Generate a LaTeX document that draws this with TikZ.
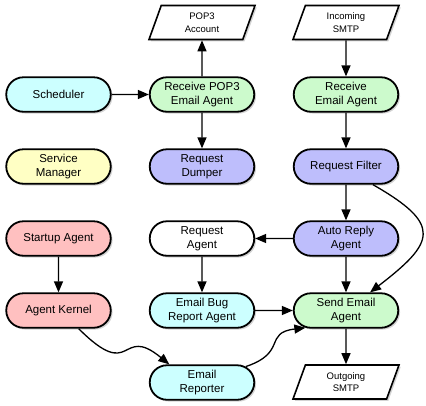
\documentclass[tikz,border=0pt]{standalone}
\usepackage{fontspec}
\setmainfont{Liberation Sans}
\usetikzlibrary{arrows.meta}
\usetikzlibrary{shapes.misc,shapes.geometric,shadows}
\definecolor{cyanfill}{RGB}{204,255,255}
\definecolor{greenfill}{RGB}{204,250,204}
\definecolor{purplefill}{RGB}{190,190,252}
\definecolor{yellowfill}{RGB}{255,255,196}
\definecolor{pinkfill}{RGB}{255,192,192}
\tikzset{
    agent/.style={rounded rectangle, draw=black, line width=1.8pt,
        minimum width=106.5pt, minimum height=34.5pt, inner sep=1pt, align=center,
        font=\fontsize{11.5}{14}\selectfont,
        drop shadow={shadow xshift=1.8pt, shadow yshift=-1.8pt, opacity=0.35}},
    iobox/.style={trapezium, trapezium left angle=60, trapezium right angle=120,
        trapezium stretches body, draw=black, line width=1.6pt, fill=white,
        minimum width=106pt, minimum height=34pt, inner sep=1pt, align=center,
        font=\fontsize{9.5}{12.5}\selectfont,
        drop shadow={shadow xshift=1.8pt, shadow yshift=-1.8pt, opacity=0.35}},
    flow/.style={black, line width=1.3pt, -{Triangle[length=11pt,width=9pt]}}
}
\begin{document}
\begin{tikzpicture}[x=1pt, y=-1pt]
\useasboundingbox (0,0) rectangle (426,405);
\node[iobox] (pop) at (202,22.5) {POP3\\Account};
\node[iobox] (insmtp) at (346,22.5) {Incoming\\SMTP};
\node[agent, fill=cyanfill] (sched) at (58.5,94.5) {Scheduler};
\node[agent, fill=greenfill] (recpop) at (202,94.5) {Receive POP3\\Email Agent};
\node[agent, fill=greenfill] (recmail) at (346,94.5) {Receive\\Email Agent};
\node[agent, fill=yellowfill] (service) at (58.5,166.5) {Service\\Manager};
\node[agent, fill=purplefill] (dumper) at (202,166.5) {Request\\Dumper};
\node[agent, fill=purplefill] (filter) at (346,166.5) {Request Filter};
\node[agent, fill=pinkfill] (startup) at (58.5,238.5) {Startup Agent};
\node[agent, fill=white] (reqagent) at (202,238.5) {Request\\Agent};
\node[agent, fill=purplefill] (autoreply) at (346,238.5) {Auto Reply\\Agent};
\node[agent, fill=pinkfill] (kernel) at (58.5,310.5) {Agent Kernel};
\node[agent, fill=cyanfill] (bugreport) at (202,310.5) {Email Bug\\Report Agent};
\node[agent, fill=greenfill] (send) at (346,310.5) {Send Email\\Agent};
\node[agent, fill=cyanfill] (reporter) at (202,382.5) {Email\\Reporter};
\node[iobox] (outsmtp) at (346,382) {Outgoing\\SMTP};
\draw[flow] (sched) -- (recpop);
\draw[flow] (recpop) -- (pop);
\draw[flow] (recpop) -- (dumper);
\draw[flow] (insmtp) -- (recmail);
\draw[flow] (recmail) -- (filter);
\draw[flow] (filter) -- (autoreply);
\draw[flow] (filter.-34) .. controls +(70,40) and +(65,-50) .. (send.37);
\draw[flow] (autoreply) -- (reqagent);
\draw[flow] (autoreply) -- (send);
\draw[flow] (reqagent) -- (bugreport);
\draw[flow] (bugreport) -- (send);
\draw[flow] (startup) -- (kernel);
\draw[flow] (kernel.-42) .. controls +(55,55) and +(-50,-41) .. (reporter.151);
\draw[flow] (reporter.20) .. controls +(42,-14) and +(-42,5) .. (send.203);
\draw[flow] (send) -- (outsmtp);
\end{tikzpicture}
\end{document}
